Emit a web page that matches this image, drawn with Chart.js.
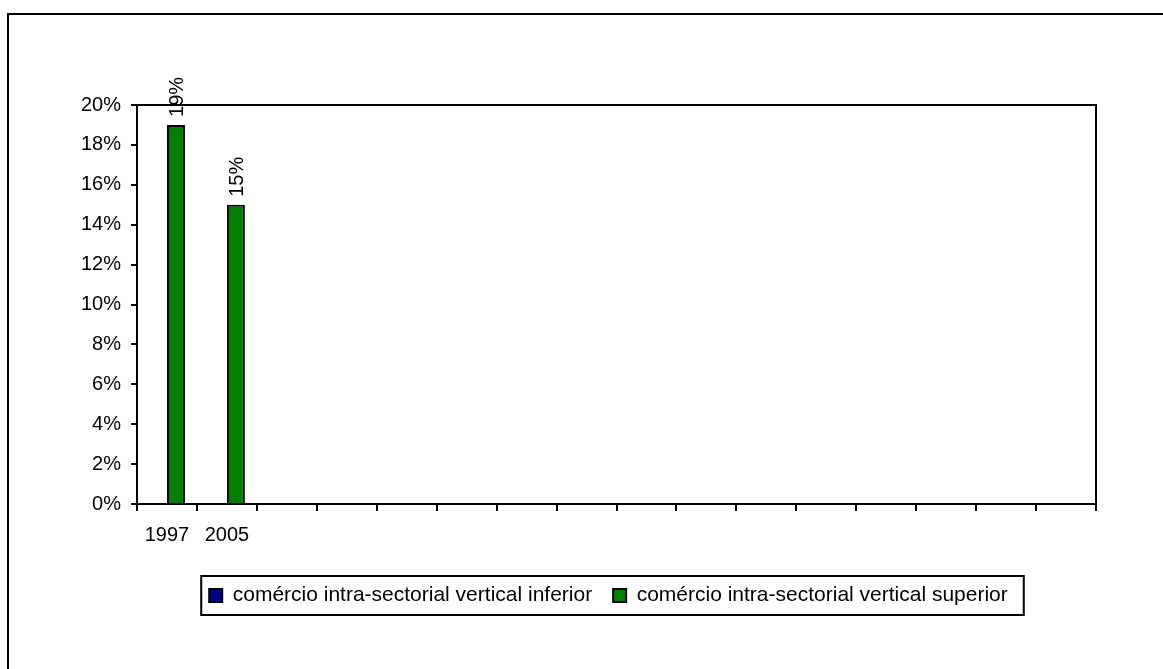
<!DOCTYPE html>
<html>
<head>
<meta charset="utf-8">
<script src="https://cdn.jsdelivr.net/npm/chart.js@4/dist/chart.umd.min.js"></script>
<style>
  html, body { margin: 0; padding: 0; background: #fff; }
  #wrap { width: 1163px; height: 669px; position: relative; }
</style>
</head>
<body>
<div id="wrap"><canvas id="c" width="1163" height="669"></canvas></div>
<script>
// Categories: sixteen slots on the axis, only the first two carry a year
const categories = ['1997', '2005', '', '', '', '', '', '', '', '', '', '', '', '', '', ''];
// Share of trade, in percent
const inferiorValues = [null, null];
const superiorValues = [19, 15];
const seriesNames = ['comércio intra-sectorial vertical inferior', 'comércio intra-sectorial vertical superior'];
const yTickMax = 20;
const yTickStep = 2;

const FONT = 'Liberation Sans, Arial, sans-serif';
Chart.defaults.font.family = FONT;
Chart.defaults.font.size = 20;
Chart.defaults.color = '#000';

// Outer frame, plot-area box and the border around the legend
const framePlugin = {
  id: 'frames',
  beforeDraw(chart) {
    const c = chart.ctx;
    c.save();
    c.fillStyle = '#fff';
    c.fillRect(0, 0, chart.width, chart.height);
    c.strokeStyle = '#000';
    c.lineWidth = 2;
    c.strokeRect(8, 14, chart.width + 20, chart.height + 20);
    c.restore();
  },
  afterDraw(chart) {
    const c = chart.ctx;
    const a = chart.chartArea;
    c.save();
    c.strokeStyle = '#000';
    c.lineWidth = 2;
    c.beginPath();
    c.moveTo(a.left, a.top);
    c.lineTo(a.right, a.top);
    c.lineTo(a.right, a.bottom);
    c.stroke();
    const hb = chart.legend.legendHitBoxes;
    if (hb && hb.length) {
      const first = hb[0], last = hb[hb.length - 1];
      const left = first.left - 8;
      const right = last.left + last.width + 16;
      const top = first.top - 9;
      const bottom = first.top + first.height + 9;
      c.strokeRect(left, top, right - left, bottom - top);
    }
    c.restore();
  }
};

// Rotated value labels above the bars
const valueLabelPlugin = {
  id: 'valueLabels',
  afterDatasetsDraw(chart) {
    const c = chart.ctx;
    chart.data.datasets.forEach((ds, di) => {
      const meta = chart.getDatasetMeta(di);
      meta.data.forEach((bar, i) => {
        const v = ds.data[i];
        if (v === null || v === undefined) return;
        c.save();
        c.font = '20px ' + FONT;
        c.fillStyle = '#000';
        c.translate(bar.x + 7, bar.y - 8);
        c.rotate(-Math.PI / 2);
        c.textAlign = 'left';
        c.textBaseline = 'alphabetic';
        c.fillText(v + '%', 0, 0);
        c.restore();
      });
    });
  }
};

new Chart(document.getElementById('c'), {
  type: 'bar',
  data: {
    labels: categories,
    datasets: [
      {
        label: seriesNames[0],
        data: inferiorValues,
        backgroundColor: '#000080',
        borderColor: '#000',
        borderWidth: 2
      },
      {
        label: seriesNames[1],
        data: superiorValues,
        backgroundColor: '#008000',
        borderColor: '#000',
        borderWidth: 2
      }
    ]
  },
  options: {
    responsive: false,
    animation: false,
    devicePixelRatio: 1,
    layout: { padding: { top: 105, left: 54, right: 0, bottom: 53 } },
    datasets: { bar: { categoryPercentage: 0.6, barPercentage: 1.0 } },
    scales: {
      x: {
        grid: {
          offset: true,
          drawOnChartArea: false,
          drawTicks: true,
          tickLength: 7,
          color: '#000',
          lineWidth: 2
        },
        border: { display: true, color: '#000', width: 2 },
        ticks: { autoSkip: false, maxRotation: 0, minRotation: 0, padding: 12, color: '#000' },
        afterFit(scale) { scale.height = 60; }
      },
      y: {
        min: 0,
        max: yTickMax,
        grid: {
          drawOnChartArea: false,
          drawTicks: true,
          tickLength: 6,
          color: '#000',
          lineWidth: 2
        },
        border: { display: true, color: '#000', width: 2 },
        ticks: {
          stepSize: yTickStep,
          padding: 10,
          color: '#000',
          callback: v => v + '%'
        },
        afterFit(scale) { scale.width = 83; }
      },
      // empty margin to the right of the plot area
      rightMargin: {
        type: 'linear',
        position: 'right',
        display: true,
        grid: { display: false },
        border: { display: false },
        ticks: { display: false },
        afterFit(scale) { scale.width = 67; }
      }
    },
    plugins: {
      legend: {
        position: 'bottom',
        labels: {
          boxWidth: 13,
          boxHeight: 13,
          padding: 21,
          color: '#000',
          font: { size: 21, family: FONT }
        }
      },
      tooltip: { enabled: false }
    }
  },
  plugins: [framePlugin, valueLabelPlugin]
});
</script>
</body>
</html>
